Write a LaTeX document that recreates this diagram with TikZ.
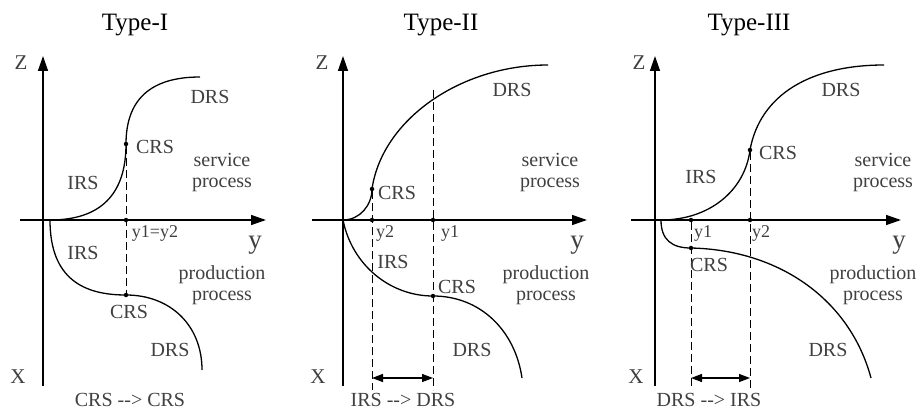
\documentclass[tikz,border=0pt]{standalone}
\usepackage{fontspec}
\setmainfont{Liberation Serif}
\usetikzlibrary{arrows.meta}
\tikzset{
    axis/.style={line width=1.4pt, -{Triangle[length=15pt,width=10pt]}},
    curve/.style={line width=1.3pt},
    guide/.style={line width=0.9pt, dash pattern=on 8pt off 4pt},
    dot/.style={circle, fill, inner sep=0pt, minimum size=4.5pt},
    lbl/.style={text=black!75, font=\fontsize{20}{21}\selectfont, inner sep=0pt, align=center},
    small/.style={font=\fontsize{18}{18}\selectfont},
    axlbl/.style={text=black!75, font=\fontsize{21}{21}\selectfont, inner sep=0pt},
    title/.style={font=\fontsize{25}{25}\selectfont, inner sep=0pt},
    shiftarrow/.style={line width=1.3pt, {Triangle[length=11pt,width=8pt]}-{Triangle[length=11pt,width=8pt]}}
}
\begin{document}
\begin{tikzpicture}[x=1pt,y=-1pt]
    \useasboundingbox (0,0) rectangle (916,412);

    % ---------------- Type-I ----------------
    \node[title] (t1) at (135,25) {Type-I};
    % Axes
    \coordinate (zt1) at (43,56);
    \coordinate (xb1) at (43,386);
    \coordinate (yl1) at (20,220);
    \coordinate (yr1) at (266,220);
    \draw[axis] (xb1) -- (zt1);
    \draw[axis] (yl1) -- (yr1);
    \node[axlbl] (zl1) at (21,63) {Z};
    \node[axlbl] (xl1) at (18,377) {X};
    \node[axlbl, font=\fontsize{27}{27}\selectfont] (yy1) at (255,245) {y};

    % Points
    \coordinate (o1) at (50,220);
    \node[dot] (s1) at (126,144) {};
    \node[dot] (a1) at (126,220) {};
    \node[dot] (p1) at (126,295) {};

    % Curves
    \draw[curve] (o1) .. controls (100,220) and (126,195) .. (s1.center)
        .. controls (126,100) and (150,77) .. (200,77);
    \draw[curve] (o1) .. controls (50,280) and (85,295) .. (p1.center)
        .. controls (170,295) and (202,325) .. (202,370);
    \draw[guide] (s1) -- (p1);

    % Labels
    \node[lbl] at (210,97) {DRS};
    \node[lbl] at (155,147) {CRS};
    \node[lbl] at (222,173) {service\\process};
    \node[lbl] at (83,183) {IRS};
    \node[lbl, small] at (155,233) {y1=y2};
    \node[lbl] at (83,253) {IRS};
    \node[lbl] at (222,285) {production\\process};
    \node[lbl] at (129,312) {CRS};
    \node[lbl] at (170,350) {DRS};
    \node[lbl] at (130,400) {CRS -{}-{}> CRS};

    % ---------------- Type-II ----------------
    \node[title] (t2) at (441,25) {Type-II};
    % Axes
    \coordinate (zt2) at (343,56);
    \coordinate (xb2) at (343,386);
    \coordinate (yl2) at (312,220);
    \coordinate (yr2) at (587,220);
    \draw[axis] (xb2) -- (zt2);
    \draw[axis] (yl2) -- (yr2);
    \node[axlbl] (zl2) at (322,63) {Z};
    \node[axlbl] (xl2) at (318,377) {X};
    \node[axlbl, font=\fontsize{27}{27}\selectfont] (yy2) at (577,245) {y};

    % Points
    \coordinate (o2) at (343,220);
    \node[dot] (s2) at (372,189) {};
    \node[dot] (a2) at (372,220) {};
    \node[dot] (b2) at (433,220) {};
    \node[dot] (p2) at (433,296) {};
    \coordinate (u2) at (433,90);
    \coordinate (e2) at (372,390);
    \coordinate (f2) at (433,390);
    \coordinate (g2) at (372,378);
    \coordinate (h2) at (433,378);

    % Curves
    \draw[curve] (o2) .. controls (360,220) and (372,205) .. (s2.center)
        .. controls (382,120) and (460,65) .. (548,65);
    \draw[curve] (o2) .. controls (352,265) and (390,296) .. (p2.center)
        .. controls (480,296) and (515,330) .. (522,378);
    \draw[guide] (s2) -- (e2);
    \draw[guide] (u2) -- (f2);
    \draw[shiftarrow] (g2) -- (h2);

    % Labels
    \node[lbl] at (512,90) {DRS};
    \node[lbl] at (397,193) {CRS};
    \node[lbl] at (550,173) {service\\process};
    \node[lbl, small] at (385,233) {y2};
    \node[lbl, small] at (450,233) {y1};
    \node[lbl] at (393,262) {IRS};
    \node[lbl] at (457,287) {CRS};
    \node[lbl] at (546,285) {production\\process};
    \node[lbl] at (472,350) {DRS};
    \node[lbl] at (403,400) {IRS -{}-{}> DRS};

    % ---------------- Type-III ----------------
    \node[title] (t3) at (749,25) {Type-III};
    % Axes
    \coordinate (zt3) at (655,56);
    \coordinate (xb3) at (655,386);
    \coordinate (yl3) at (631,220);
    \coordinate (yr3) at (901,220);
    \draw[axis] (xb3) -- (zt3);
    \draw[axis] (yl3) -- (yr3);
    \node[axlbl] (zl3) at (639,63) {Z};
    \node[axlbl] (xl3) at (636,377) {X};
    \node[axlbl, font=\fontsize{27}{27}\selectfont] (yy3) at (899,245) {y};

    % Points
    \coordinate (o3) at (661,220);
    \node[dot] (s3) at (750,150) {};
    \node[dot] (a3) at (691,220) {};
    \node[dot] (b3) at (750,220) {};
    \node[dot] (p3) at (691,248) {};
    \coordinate (e3) at (691,390);
    \coordinate (f3) at (750,390);
    \coordinate (g3) at (691,378);
    \coordinate (h3) at (750,378);

    % Curves
    \draw[curve] (o3) .. controls (710,220) and (745,190) .. (s3.center)
        .. controls (760,95) and (810,65) .. (884,65);
    \draw[curve] (o3) .. controls (661,240) and (672,248) .. (p3.center)
        .. controls (780,250) and (850,300) .. (871,378);
    \draw[guide] (a3) -- (e3);
    \draw[guide] (s3) -- (f3);
    \draw[shiftarrow] (g3) -- (h3);

    % Labels
    \node[lbl] at (841,90) {DRS};
    \node[lbl] at (778,153) {CRS};
    \node[lbl] at (701,177) {IRS};
    \node[lbl] at (883,173) {service\\process};
    \node[lbl, small] at (703,233) {y1};
    \node[lbl, small] at (761,233) {y2};
    \node[lbl] at (709,265) {CRS};
    \node[lbl] at (873,285) {production\\process};
    \node[lbl] at (828,350) {DRS};
    \node[lbl] at (709,400) {DRS -{}-{}> IRS};
\end{tikzpicture}
\end{document}
